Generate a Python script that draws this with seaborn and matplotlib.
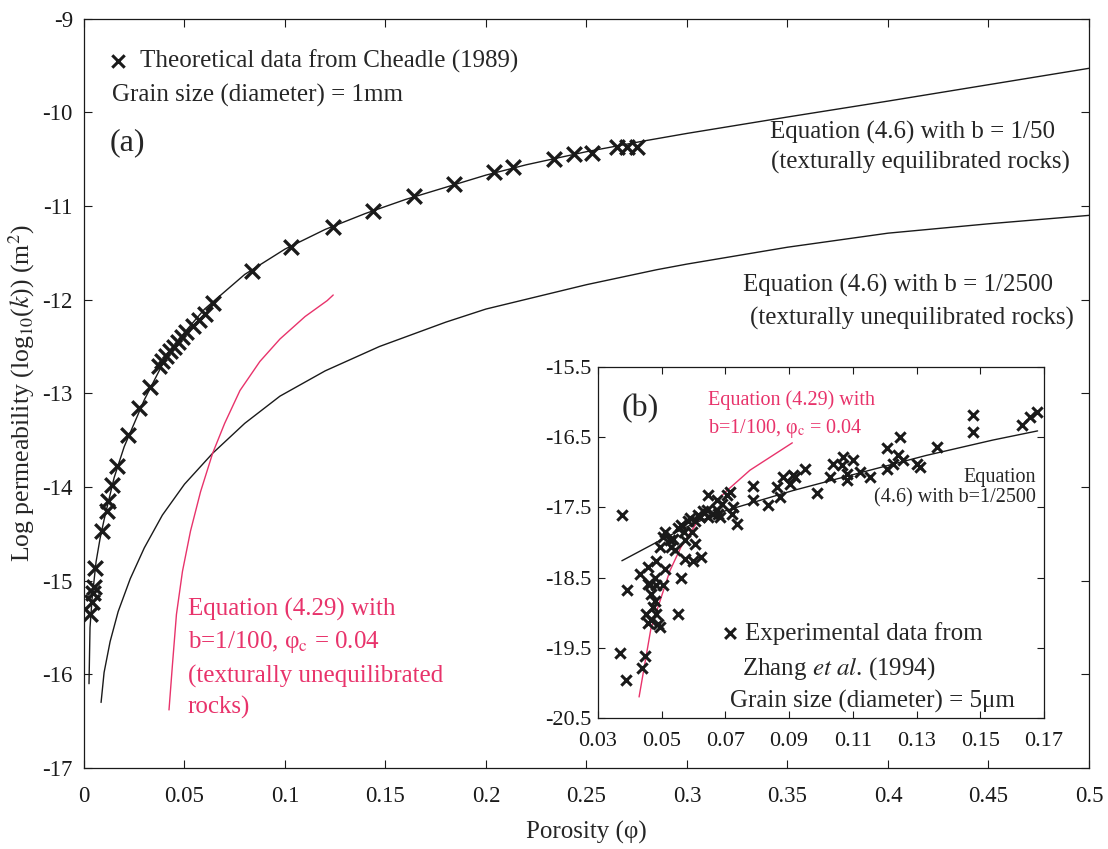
import matplotlib
matplotlib.use("Agg")
import matplotlib.pyplot as plt
import seaborn as sns
import pandas as pd

# ---------------- data ----------------
# Main panel (a): Cheadle (1989) theoretical data
cheadle_phi = [0.003, 0.004, 0.0045, 0.0048, 0.0055, 0.009, 0.0114, 0.012, 0.014, 0.0164,
               0.022, 0.0274, 0.0328, 0.0373, 0.039, 0.041, 0.043, 0.045, 0.047, 0.049,
               0.051, 0.054, 0.057, 0.060, 0.064, 0.0836, 0.103, 0.124, 0.144, 0.164,
               0.184, 0.204, 0.2135, 0.234, 0.244, 0.253, 0.265, 0.270, 0.275]
cheadle_logk = [-15.36, -15.23, -15.13, -15.07, -14.86, -14.47, -14.26, -14.15, -13.98, -13.78,
                -13.45, -13.16, -12.93, -12.71, -12.66, -12.60, -12.55, -12.50, -12.45, -12.40,
                -12.35, -12.28, -12.22, -12.15, -12.04, -11.69, -11.44, -11.22, -11.05, -10.89,
                -10.77, -10.64, -10.58, -10.50, -10.45, -10.43, -10.37, -10.37, -10.37]

# Equation (4.6) with b = 1/50
eq50_phi = [0.0025, 0.003, 0.004, 0.006, 0.008, 0.010, 0.015, 0.020, 0.030, 0.040, 0.050,
            0.060, 0.080, 0.100, 0.120, 0.140, 0.160, 0.180, 0.200, 0.220, 0.250, 0.280,
            0.300, 0.350, 0.400, 0.450, 0.500]
eq50_logk = [-16.10, -15.50, -15.20, -14.80, -14.55, -14.35, -13.90, -13.57, -13.07, -12.65,
             -12.35, -12.10, -11.73, -11.46, -11.25, -11.08, -10.93, -10.80, -10.67, -10.56,
             -10.42, -10.30, -10.225, -10.05, -9.88, -9.705, -9.53]

# Equation (4.6) with b = 1/2500
eq2500_phi = [0.0085, 0.010, 0.013, 0.017, 0.023, 0.030, 0.039, 0.050, 0.064, 0.080,
              0.0975, 0.120, 0.147, 0.180, 0.200, 0.250, 0.285, 0.300, 0.350, 0.400,
              0.450, 0.500]
eq2500_logk = [-16.30, -15.98, -15.65, -15.33, -14.98, -14.65, -14.30, -13.97, -13.64, -13.32,
               -13.03, -12.76, -12.50, -12.24, -12.10, -11.84, -11.68, -11.62, -11.44, -11.29,
               -11.19, -11.10]

# Equation (4.29) with b = 1/100, phi_c = 0.04
eq429_phi = [0.0423, 0.044, 0.046, 0.049, 0.053, 0.058, 0.064, 0.070, 0.0776, 0.0875,
             0.0975, 0.110, 0.121, 0.124]
eq429_logk = [-16.38, -15.90, -15.36, -14.90, -14.47, -14.05, -13.64, -13.32, -12.97, -12.66,
              -12.42, -12.18, -12.01, -11.95]

# Inset (b): Zhang et al. (1994) experimental data
zhang_phi = [0.0374, 0.0390, 0.0368, 0.0389, 0.0449, 0.0438, 0.0551, 0.0462, 0.0483, 0.0504,
             0.0467, 0.0478, 0.0473, 0.0483, 0.0452, 0.0467, 0.0488, 0.0494, 0.0457, 0.0645,
             0.0509, 0.0551, 0.0583, 0.0614, 0.0645, 0.0677, 0.0494, 0.0530, 0.0572, 0.0604,
             0.0624, 0.0572, 0.0541, 0.0483, 0.0457, 0.0431, 0.0509, 0.0478, 0.0562, 0.0457,
             0.0525, 0.0504, 0.0704, 0.0735, 0.0620, 0.0673, 0.0725, 0.0683, 0.0599, 0.0714,
             0.0788, 0.0788, 0.0835, 0.0861, 0.0882, 0.0903, 0.0871, 0.0919, 0.0950, 0.0987,
             0.1028, 0.1039, 0.1070, 0.1081, 0.0673, 0.0641, 0.0913, 0.1101, 0.1081, 0.1123,
             0.1154, 0.1206, 0.1206, 0.1227, 0.1248, 0.1243, 0.1258, 0.1301, 0.1311, 0.1363,
             0.1478, 0.1478, 0.1630, 0.1656, 0.1677, 0.1065, 0.0560, 0.0590, 0.0630, 0.0660,
             0.0690, 0.0720, 0.0605, 0.0570, 0.0535, 0.0595]
zhang_logk = [-17.61, -18.68, -19.57, -19.96, -19.61, -19.79, -19.02, -18.59, -18.61, -18.61,
              -18.73, -18.83, -18.92, -19.02, -19.02, -19.11, -19.16, -19.21, -19.14, -17.33,
              -17.85, -17.80, -17.69, -17.61, -17.64, -17.59, -18.07, -18.07, -17.97, -18.02,
              -18.21, -18.23, -18.11, -18.26, -18.35, -18.45, -18.38, -18.50, -18.50, -18.59,
              -17.97, -17.92, -17.33, -17.73, -17.64, -17.54, -17.50, -17.64, -18.26, -17.28,
              -17.19, -17.40, -17.47, -17.21, -17.07, -17.16, -17.35, -17.07, -16.95, -17.30,
              -17.07, -16.88, -16.78, -17.02, -17.40, -17.54, -17.04, -16.83, -17.11, -17.00,
              -17.07, -16.66, -16.95, -16.88, -16.50, -16.76, -16.83, -16.88, -16.92, -16.64,
              -16.19, -16.42, -16.33, -16.21, -16.14, -16.90, -17.75, -17.65, -17.55, -17.60,
              -17.45, -17.60, -17.70, -17.85, -17.95, -17.85]

# Inset curves
in_eq_phi = [0.0375, 0.0495, 0.060, 0.0705, 0.0912, 0.112, 0.133, 0.154, 0.168]
in_eq_logk = [-18.26, -17.97, -17.73, -17.54, -17.26, -17.01, -16.76, -16.54, -16.41]
in_red_phi = [0.0429, 0.0466, 0.0526, 0.056, 0.0614, 0.070, 0.0777, 0.091]
in_red_logk = [-20.20, -19.23, -18.40, -18.07, -17.69, -17.28, -16.97, -16.58]

main_xticks = [0, 0.05, 0.1, 0.15, 0.2, 0.25, 0.3, 0.35, 0.4, 0.45, 0.5]
main_xticklabels = ["0", "0.05", "0.1", "0.15", "0.2", "0.25", "0.3", "0.35", "0.4", "0.45", "0.5"]
main_yticks = [-17, -16, -15, -14, -13, -12, -11, -10, -9]
inset_xticks = [0.03, 0.05, 0.07, 0.09, 0.11, 0.13, 0.15, 0.17]
inset_yticks = [-20.5, -19.5, -18.5, -17.5, -16.5, -15.5]

# ---------------- styling ----------------
sns.set_theme(style="ticks")
plt.rcParams["font.family"] = ["Liberation Serif", "DejaVu Serif"]
plt.rcParams["mathtext.fontset"] = "stix"
plt.rcParams["axes.unicode_minus"] = False
plt.rcParams["xtick.direction"] = "in"
plt.rcParams["ytick.direction"] = "in"

RED = "#e8336b"
BLACK = "#1a1a1a"
TXT = 18

fig = plt.figure(figsize=(11.08, 8.49), dpi=100)
ax = fig.add_axes([0.0758, 0.0954, 0.9070, 0.8826])

def curve(axis, x, y, color, lw=1.0):
    df = pd.DataFrame({"x": x, "y": y})
    sns.lineplot(data=df, x="x", y="y", ax=axis, color=color, lw=lw,
                 sort=False, estimator=None)

curve(ax, eq50_phi, eq50_logk, BLACK)
curve(ax, eq2500_phi, eq2500_logk, BLACK)
curve(ax, eq429_phi, eq429_logk, RED)
sns.scatterplot(x=cheadle_phi, y=cheadle_logk, ax=ax, marker="x", s=110,
                color=BLACK, linewidth=2.4, zorder=5)

ax.set_xlim(0, 0.5)
ax.set_ylim(-17, -9)
ax.set_xticks(main_xticks)
ax.set_xticklabels(main_xticklabels)
ax.set_yticks(main_yticks)
ax.tick_params(axis="both", labelsize=16.5, length=6, width=0.8, top=True, right=True,
               colors=BLACK)
ax.tick_params(axis="x", pad=13)
ax.tick_params(axis="y", pad=8)
for sp in ax.spines.values():
    sp.set_linewidth(0.9)
    sp.set_color(BLACK)
ax.set_xlabel("Porosity (φ)", fontsize=18, labelpad=10)
ax.set_ylabel("Log permeability (log$_{10}$($k$)) (m$^2$)", fontsize=18.5, labelpad=4)

# annotations panel (a)
sns.scatterplot(x=[0.0169], y=[-9.457], ax=ax, marker="x", s=80, color=BLACK, linewidth=2.2)
ax.text(0.0279, -9.457, "Theoretical data from Cheadle (1989)", fontsize=TXT, va="center", ha="left")
ax.text(0.0139, -9.82, "Grain size (diameter) = 1mm", fontsize=TXT, va="center", ha="left")
ax.text(0.0129, -10.32, "(a)", fontsize=23, va="center", ha="left")
ax.text(0.412, -10.21, "Equation (4.6) with b = 1/50", fontsize=TXT, va="center", ha="center")
ax.text(0.416, -10.54, "(texturally equilibrated rocks)", fontsize=TXT, va="center", ha="center")
ax.text(0.405, -11.85, "Equation (4.6) with b = 1/2500", fontsize=TXT, va="center", ha="center")
ax.text(0.412, -12.20, "(texturally unequilibrated rocks)", fontsize=TXT, va="center", ha="center")
for yy, s in zip([-15.31, -15.66, -16.02, -16.35],
                 ["Equation (4.29) with", "b=1/100, φ$_{\\mathrm{c}}$ = 0.04",
                  "(texturally unequilibrated", "rocks)"]):
    ax.text(0.0517, yy, s, fontsize=TXT, color=RED, va="center", ha="left")

# ---------------- inset (b) ----------------
ins = fig.add_axes([0.5397, 0.1543, 0.4025, 0.4134])
ins.set_facecolor("white")
curve(ins, in_eq_phi, in_eq_logk, BLACK)
curve(ins, in_red_phi, in_red_logk, RED)
sns.scatterplot(x=zhang_phi, y=zhang_logk, ax=ins, marker="x", s=55,
                color=BLACK, linewidth=2.2, zorder=5)
ins.set_xlim(0.03, 0.17)
ins.set_ylim(-20.5, -15.5)
ins.set_xticks(inset_xticks)
ins.set_xticklabels([f"{v:.2f}" for v in inset_xticks])
ins.set_yticks(inset_yticks)
ins.set_yticklabels([f"{v:.1f}" for v in inset_yticks])
ins.tick_params(axis="both", labelsize=16, length=5, width=0.8, top=True, right=True,
                colors=BLACK)
ins.tick_params(axis="x", pad=10)
ins.tick_params(axis="y", pad=5)
for sp in ins.spines.values():
    sp.set_linewidth(0.9)
    sp.set_color(BLACK)
ins.set_xlabel("")
ins.set_ylabel("")

ins.text(0.0375, -16.09, "(b)", fontsize=23, va="center", ha="left")
ins.text(0.0645, -15.97, "Equation (4.29) with", fontsize=14.5, color=RED, va="center", ha="left")
ins.text(0.0645, -16.37, "b=1/100, φ$_{\\mathrm{c}}$ = 0.04", fontsize=14.5, color=RED, va="center", ha="left")
ins.text(0.1675, -17.07, "Equation", fontsize=14.5, va="center", ha="right")
ins.text(0.1675, -17.37, "(4.6) with b=1/2500", fontsize=14.5, va="center", ha="right")
sns.scatterplot(x=[0.0714], y=[-19.29], ax=ins, marker="x", s=60, color=BLACK, linewidth=2.2)
ins.text(0.0762, -19.29, "Experimental data from", fontsize=TXT, va="center", ha="left")
ins.text(0.0752, -19.79, "Zhang $\\mathit{et\\ al}$. (1994)", fontsize=TXT, va="center", ha="left")
ins.text(0.0714, -20.26, "Grain size (diameter) = 5μm", fontsize=TXT, va="center", ha="left")

fig.savefig("out.png", dpi=100, facecolor="white")
